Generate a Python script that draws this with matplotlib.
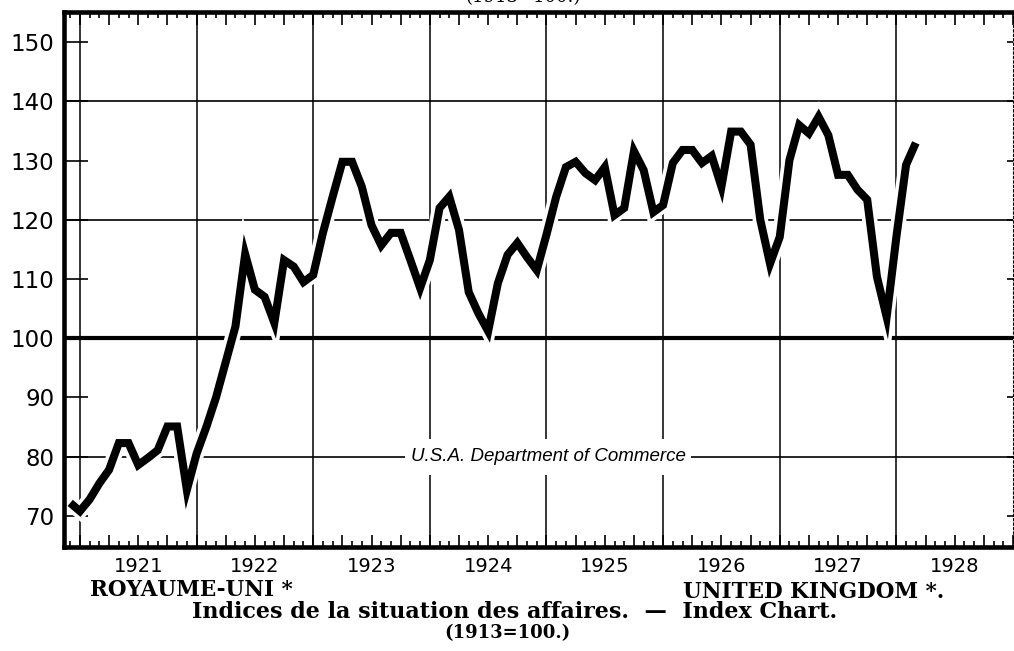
#!/usr/bin/env python3
"""UK business index chart, 1921-1928 (1913 = 100), redrawn from a scanned plate."""
import matplotlib
matplotlib.use("Agg")
import matplotlib.pyplot as plt
import matplotlib.patheffects as pe
from matplotlib.patches import Rectangle
from matplotlib.transforms import IdentityTransform
from matplotlib.ticker import MultipleLocator
import numpy as np

# month index 0 = Jan 1921; series runs Dec 1920 .. Mar 1928
FIRST_MONTH = -1
VALUES = [
    72.2,                                                                      # Dec 1920
    70.8, 72.8, 75.5, 77.8, 82.3, 82.3, 78.6, 79.8, 81.1, 85.1, 85.1, 74.4,    # 1921
    80.5, 85.0, 90.0, 96.0, 102.0, 114.2, 108.2, 107.0, 102.6, 113.2, 112.1, 109.5,  # 1922
    110.7, 117.8, 123.9, 129.8, 129.8, 125.6, 119.1, 115.7, 117.8, 117.8, 113.2, 108.5,  # 1923
    113.2, 122.0, 123.9, 118.3, 107.8, 104.2, 101.2, 109.3, 114.1, 116.1, 113.7, 111.5,  # 1924
    117.5, 123.9, 128.9, 129.8, 127.9, 126.7, 128.9, 120.8, 122.0, 131.6, 128.4, 121.3,  # 1925
    122.5, 129.6, 131.8, 131.8, 129.6, 130.8, 125.6, 134.9, 134.9, 132.7, 120.0, 112.6,  # 1926
    117.1, 130.1, 136.0, 134.6, 137.4, 134.3, 127.6, 127.6, 125.1, 123.4, 110.4, 103.6,  # 1927
    117.1, 129.3, 133.0,                                                       # 1928
]
YEARS = [1921, 1922, 1923, 1924, 1925, 1926, 1927, 1928]
THIN_LEVELS = [80, 120, 140]
BASE_LEVEL = 100
Y_TICKS = [70, 80, 90, 100, 110, 120, 130, 140, 150]

SOURCE = "U.S.A. Department of Commerce"
LEFT_TITLE = "ROYAUME-UNI *"
RIGHT_TITLE = "UNITED KINGDOM *."
CAPTION = "Indices de la situation des affaires.  \u2014  Index Chart."
BASE_NOTE = "(1913=100.)"

months = np.arange(FIRST_MONTH, FIRST_MONTH + len(VALUES))
year_starts = [(y - YEARS[0]) * 12 for y in YEARS]

fig = plt.figure(figsize=(10.14, 6.51), dpi=100)
ax = fig.add_axes([64 / 1014, 1 - 547 / 651, (1013 - 64) / 1014, (547 - 12) / 651])
ax.set_xlim(-1.64, 96)
ax.set_ylim(64.75, 155.1)

# grid: yearly verticals, 80/120/140 thin, 100 heavy
ax.vlines(year_starts, 0, 1, transform=ax.get_xaxis_transform(),
          color="black", lw=1.1, zorder=1)
for lv in THIN_LEVELS:
    ax.axhline(lv, color="black", lw=1.2, zorder=1)
ax.axhline(BASE_LEVEL, color="black", lw=3.0, zorder=1)

# index line with a white halo that breaks the grid beneath it
ax.plot(months, VALUES, color="black", lw=5.8, solid_joinstyle="miter",
        solid_capstyle="butt", zorder=3,
        path_effects=[pe.Stroke(linewidth=11, foreground="white"), pe.Normal()])

for side in ("left", "bottom", "top"):
    ax.spines[side].set_linewidth(3.3)
    ax.spines[side].set_zorder(5)
ax.spines["right"].set_linewidth(0.8)
ax.spines["right"].set_linestyle((0, (2, 2)))

# monthly ticks, quarterly ticks longer, top and bottom
ax.xaxis.set_major_locator(MultipleLocator(3))
ax.xaxis.set_minor_locator(MultipleLocator(1))
ax.tick_params(axis="x", which="major", direction="in", length=9, width=1.2,
               top=True, bottom=True, labelbottom=False)
ax.tick_params(axis="x", which="minor", direction="in", length=4.5, width=1.2,
               top=True, bottom=True)

ax.set_yticks(Y_TICKS)
ax.set_yticklabels([str(v) for v in Y_TICKS])
ax.tick_params(axis="y", which="major", direction="in", length=17, width=1.2,
               pad=7, labelsize=16.5, right=True)
ax.tick_params(axis="y", which="minor", left=False, right=False)
for t in ax.yaxis.get_major_ticks():
    t.tick2line.set_markersize(4)

for i, yr in enumerate(YEARS):
    ax.annotate(str(yr), xy=(year_starts[i] + 6, 0),
                xycoords=("data", "axes fraction"), xytext=(0, -14),
                textcoords="offset points", ha="center", va="center",
                fontsize=14)

src = ax.text(48.2, 80, SOURCE, ha="center", va="center", fontsize=13.5,
              style="italic", family=["Liberation Sans Narrow", "Liberation Sans"],
              zorder=4)

fig.text(90 / 1014, 1 - 590 / 651, LEFT_TITLE, ha="left", va="center",
         family="DejaVu Serif", weight="bold", fontsize=15.5)
fig.text(683 / 1014, 1 - 592 / 651, RIGHT_TITLE, ha="left", va="center",
         family="DejaVu Serif", weight="bold", fontsize=15.5)
fig.text(515 / 1014, 1 - 612 / 651, CAPTION, ha="center", va="center",
         family="DejaVu Serif", weight="bold", fontsize=16)
fig.text(507 / 1014, 1 - 633 / 651, BASE_NOTE, ha="center", va="center",
         family="DejaVu Serif", weight="bold", fontsize=13)
# the same note from the plate above, cut off by the top edge as in the scan
fig.text(523 / 1014, 1 - 2 / 651, BASE_NOTE, ha="center", va="baseline",
         family="DejaVu Serif", fontsize=13)

# white block behind the source label, taller than the text itself
fig.canvas.draw()
bb = src.get_window_extent().expanded(1.04, 2.1)
ax.add_patch(Rectangle((bb.x0, bb.y0), bb.width, bb.height,
                       transform=IdentityTransform(), fc="white", ec="none",
                       zorder=2.5))
ax.set_xlim(-1.64, 96)
ax.set_ylim(64.75, 155.1)

fig.savefig("out.png", dpi=100, facecolor="white")
